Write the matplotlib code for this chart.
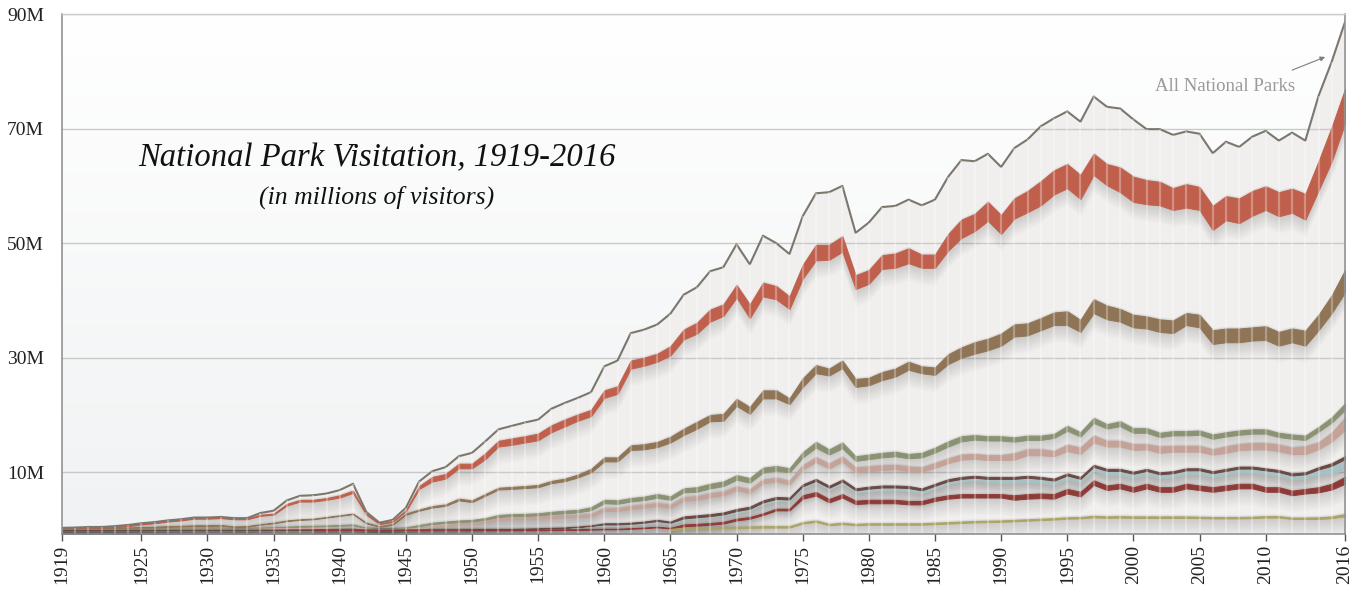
import numpy as np
import matplotlib
matplotlib.use("Agg")
import matplotlib.pyplot as plt
from matplotlib.colors import LinearSegmentedColormap

years = np.arange(1919, 2017)

# all national parks, millions of visitors
total = [
    0.3, 0.35, 0.45, 0.45, 0.6, 0.8, 1.1, 1.3, 1.6, 1.8,          # 1919-1928
    2.1, 2.1, 2.2, 2.0, 2.0, 2.9, 3.3, 5.1, 5.9, 6.0,             # 1929-1938
    6.3, 6.9, 8.0, 3.1, 1.2, 1.7, 3.8, 8.4, 10.2, 10.9,           # 1939-1948
    12.8, 13.4, 15.4, 17.5, 18.1, 18.7, 19.2, 21.1, 22.1, 23.0,   # 1949-1958
    24.0, 28.5, 29.5, 34.3, 34.9, 35.8, 37.7, 41.0, 42.3, 45.1,   # 1959-1968
    45.8, 49.8, 46.3, 51.3, 50.0, 48.1, 54.7, 58.7, 58.9, 60.0,   # 1969-1978
    51.8, 53.6, 56.3, 56.5, 57.6, 56.6, 57.6, 61.6, 64.5, 64.3,   # 1979-1988
    65.6, 63.3, 66.6, 68.1, 70.4, 71.8, 73.0, 71.2, 75.6, 73.8,   # 1989-1998
    73.5, 71.6, 69.9, 69.9, 68.9, 69.5, 69.1, 65.7, 67.7, 66.8,   # 1999-2008
    68.6, 69.6, 67.9, 69.3, 67.9, 75.7, 81.7, 88.6,               # 2009-2016
]

# stacked bands: upper edge and thickness of each band
red_top = [
    0.25, 0.3, 0.4, 0.4, 0.55, 0.75, 1.05, 1.25, 1.55, 1.75,
    2.05, 2.05, 2.15, 1.95, 1.95, 2.6, 2.8, 4.5, 5.2, 5.2,
    5.5, 6.0, 6.8, 2.8, 1.1, 1.5, 3.4, 7.6, 9.2, 9.7,
    11.5, 11.5, 13.3, 15.5, 15.9, 16.3, 16.75, 18.2, 19.2, 20.1,
    20.9, 24.3, 25.0, 29.5, 30.0, 30.7, 32.0, 34.9, 36.1, 38.4,
    39.3, 42.7, 39.3, 43.1, 42.5, 40.7, 46.2, 49.7, 49.7, 51.2,
    44.4, 45.3, 47.9, 48.2, 49.1, 48.0, 48.0, 51.6, 54.1, 55.1,
    57.2, 54.9, 57.8, 59.1, 60.8, 62.7, 63.8, 61.9, 65.6, 63.8,
    63.2, 61.6, 61.0, 60.7, 59.6, 60.3, 59.8, 56.5, 58.2, 57.8,
    59.1, 59.9, 58.9, 59.5, 58.6, 64.3, 70.3, 76.9,
]
red_width = [0.15] * 15 + [
    0.2, 0.2, 0.3, 0.3, 0.3, 0.3, 0.4, 0.4, 0.2, 0.15,
    0.15, 0.2, 0.5, 0.8, 0.8, 0.8, 0.8, 1.0, 1.0, 1.1,
    1.1, 1.15, 1.2, 1.2, 1.1, 1.1, 1.3, 1.3, 1.4, 1.4,
    1.4, 1.6, 1.7, 1.9, 2.1, 2.0, 2.2, 2.4, 2.4, 2.3,
    2.2, 2.4, 2.7, 2.6, 2.7, 2.4, 2.4, 2.4, 2.5, 2.6,
    2.3, 2.3, 2.9, 3.2, 3.0, 3.3, 3.3, 3.5, 3.7, 4.2,
    4.2, 4.2, 4.2, 3.7, 3.7, 4.3, 4.4, 4.2, 4.1, 3.8,
    4.1, 4.0, 4.2, 4.2, 4.3, 4.3, 4.1, 4.2, 4.2, 4.5,
    5.1, 6.0, 6.0,
]

brown_top = [
    0.1, 0.15, 0.2, 0.2, 0.3, 0.35, 0.45, 0.5, 0.6, 0.65,
    0.75, 0.75, 0.8, 0.55, 0.6, 0.95, 1.2, 1.6, 1.8, 1.9,
    2.2, 2.5, 2.8, 1.2, 0.6, 1.0, 2.8, 3.5, 4.1, 4.4,
    5.4, 5.1, 6.2, 7.3, 7.45, 7.6, 7.8, 8.5, 8.9, 9.6,
    10.6, 12.6, 12.6, 14.7, 14.9, 15.3, 16.2, 17.6, 18.8, 20.0,
    20.2, 22.8, 21.4, 24.3, 24.3, 22.9, 26.4, 28.7, 28.1, 29.5,
    26.3, 26.5, 27.5, 28.1, 29.3, 28.5, 28.3, 30.6, 31.8, 32.7,
    33.3, 34.2, 35.8, 36.0, 36.9, 37.9, 38.1, 36.6, 40.2, 39.1,
    38.5, 37.5, 37.2, 36.7, 36.5, 37.8, 37.5, 34.8, 35.1, 35.1,
    35.3, 35.5, 34.5, 35.1, 34.7, 37.5, 40.9, 45.3,
]
brown_width = [0.1] * 25 + [
    0.15, 0.2, 0.2, 0.25, 0.25, 0.3, 0.3, 0.3, 0.3, 0.35,
    0.35, 0.4, 0.4, 0.45, 0.5, 0.6, 0.7, 0.7, 0.8, 0.9,
    0.9, 1.0, 1.1, 1.2, 1.1, 1.2, 1.2, 1.2, 1.4, 1.4,
    1.0, 1.5, 1.4, 1.2, 1.3, 1.4, 1.3, 1.4, 1.4, 1.4,
    1.2, 1.3, 1.7, 1.8, 2.0, 2.0, 2.1, 2.1, 2.1, 2.1,
    2.2, 2.4, 2.1, 2.4, 2.4, 2.2, 2.2, 2.1, 2.2, 2.2,
    2.1, 2.2, 2.4, 2.4, 2.4, 2.3, 2.4, 2.4, 2.4, 2.6,
    2.7, 3.1, 3.9,
]

green_top = [
    0.05, 0.05, 0.1, 0.1, 0.1, 0.15, 0.2, 0.2, 0.25, 0.25,
    0.3, 0.3, 0.3, 0.2, 0.2, 0.3, 0.4, 0.5, 0.6, 0.65,
    0.7, 0.8, 0.9, 0.3, 0.1, 0.15, 0.4, 0.8, 1.2, 1.4,
    1.6, 1.7, 2.0, 2.55, 2.7, 2.75, 2.85, 3.1, 3.3, 3.45,
    3.9, 5.2, 5.1, 5.5, 5.75, 6.2, 5.8, 7.2, 7.4, 8.0,
    8.4, 9.5, 9.0, 10.8, 11.1, 10.7, 13.5, 15.3, 14.0, 15.2,
    12.8, 13.1, 13.4, 13.6, 13.2, 13.4, 14.3, 15.4, 16.3, 16.5,
    16.3, 16.3, 16.1, 16.4, 16.4, 16.7, 18.1, 17.0, 19.5, 18.4,
    18.9, 17.7, 17.7, 16.9, 17.2, 17.2, 17.3, 16.6, 17.0, 17.3,
    17.5, 17.5, 16.9, 16.6, 16.4, 17.9, 19.6, 22.0,
]
green_width = [0.1] * 26 + [
    0.15, 0.2, 0.25, 0.25, 0.3, 0.3, 0.3, 0.35, 0.35, 0.35,
    0.4, 0.4, 0.45, 0.45, 0.5, 0.6, 0.6, 0.6, 0.6, 0.65,
    0.6, 0.7, 0.8, 0.8, 0.8, 0.8, 0.8, 0.85, 0.8, 0.7,
    0.9, 1.0, 0.9, 1.0, 0.8, 0.8, 0.8, 0.8, 0.75, 0.8,
    0.85, 0.9, 0.9, 0.8, 0.75, 0.75, 0.75, 0.75, 0.75, 0.7,
    0.85, 0.75, 0.9, 0.75, 0.85, 0.8, 0.8, 0.75, 0.75, 0.75,
    0.75, 0.75, 0.75, 0.75, 0.75, 0.75, 0.75, 0.75, 0.75,
    0.8, 0.9, 1.1,
]

pink_top = [
    0.02, 0.02, 0.05, 0.05, 0.05, 0.08, 0.1, 0.1, 0.12, 0.12,
    0.15, 0.15, 0.15, 0.1, 0.1, 0.15, 0.2, 0.25, 0.3, 0.35,
    0.4, 0.45, 0.5, 0.15, 0.05, 0.08, 0.15, 0.3, 0.6, 0.75,
    1.1, 1.2, 1.55, 2.0, 2.1, 2.15, 2.3, 2.4, 2.5, 2.55,
    2.7, 3.7, 3.7, 4.1, 4.35, 4.6, 4.3, 5.6, 5.8, 6.3,
    6.6, 7.5, 7.0, 8.7, 9.0, 8.5, 11.2, 12.6, 11.5, 12.7,
    10.8, 11.0, 11.2, 11.3, 11.0, 10.85, 11.6, 12.4, 13.1, 13.2,
    13.0, 13.0, 13.3, 14.0, 14.0, 13.7, 14.8, 14.3, 16.4, 15.5,
    15.5, 14.9, 14.9, 14.5, 14.6, 14.6, 14.6, 14.0, 14.5, 14.9,
    15.1, 15.1, 14.8, 14.3, 14.5, 15.2, 16.9, 19.5,
]
pink_width = [0.05] * 27 + [
    0.1, 0.15, 0.2, 0.25, 0.25, 0.3, 0.3, 0.3, 0.3, 0.35,
    0.35, 0.35, 0.4, 0.4, 0.45, 0.45, 0.5, 0.5, 0.5, 0.5,
    0.55, 0.6, 0.6, 0.6, 0.6, 0.6, 0.6, 0.6, 0.6, 0.7,
    0.8, 0.8, 0.8, 0.75, 0.8, 0.8, 0.75, 0.8, 0.75, 0.8,
    0.8, 0.9, 0.85, 0.85, 0.85, 1.1, 1.0, 1.0, 0.9, 1.1,
    1.1, 1.2, 1.0, 1.0, 1.0, 0.9, 1.1, 1.0, 1.0, 1.0,
    0.9, 1.1, 1.0, 1.1, 1.1, 1.1, 1.1, 1.3,
    1.2, 1.5, 2.1,
]

dkbrown_top = [0.0] * 31 + [
    0.05, 0.05, 0.1, 0.1, 0.15, 0.2, 0.3, 0.35, 0.5, 0.7,
    1.1, 1.1, 1.2, 1.4, 1.7, 1.4, 2.3, 2.5, 2.7, 3.0,
    3.6, 4.0, 5.1, 5.7, 5.6, 7.9, 8.85, 7.65, 8.75, 7.2,
    7.5, 7.7, 7.7, 7.6, 7.2, 8.0, 8.8, 9.2, 9.4, 9.2,
    9.2, 9.2, 9.4, 9.2, 8.9, 9.8, 9.2, 11.3, 10.6, 10.6,
    10.1, 10.6, 10.0, 10.2, 10.7, 10.7, 10.2, 10.6, 11.0, 11.0,
    10.7, 10.4, 9.8, 10.0, 10.9, 11.6, 12.8,
]
dkbrown_width = [0.05] * 41 + [0.2] * 6 + [0.35] * 48 + [0.4, 0.45, 0.5]
# grey-blue band sits directly under the dark brown line
blue_width = [0.05] * 41 + [0.2] * 10 + [0.35] * 10 + [0.5] * 10 + [0.7] * 24 + [0.9, 1.3, 1.9]

dkred_top = [0.0] * 37 + [
    0.05, 0.05, 0.05, 0.1,
    0.15, 0.15, 0.25, 0.35, 0.5, 0.3, 0.9, 1.0, 1.15, 1.35,
    1.9, 2.2, 2.85, 3.65, 3.65, 6.0, 6.55, 5.35, 6.2, 5.05,
    5.2, 5.2, 5.2, 5.0, 5.0, 5.6, 6.0, 6.2, 6.2, 6.2,
    6.2, 6.0, 6.2, 6.3, 6.2, 7.1, 6.6, 8.6, 7.7, 8.0,
    7.4, 8.0, 7.4, 7.4, 8.0, 7.7, 7.4, 7.7, 8.0, 8.0,
    7.4, 7.4, 6.8, 7.1, 7.4, 8.0, 9.2,
]
dkred_width = [0.0] * 19 + [0.1] * 28 + [0.3] * 9 + [0.6] * 16 + [0.8] * 23 + [0.9, 1.0, 1.2]

olive_top = [0.0] * 46 + [
    0.15, 0.3, 0.4, 0.45, 0.5, 0.5, 0.55, 0.6, 0.6, 0.6,
    1.3, 1.6, 1.0, 1.2, 1.0, 1.1, 1.1, 1.1, 1.1, 1.1,
    1.2, 1.3, 1.4, 1.5, 1.55, 1.6, 1.7, 1.8, 1.9, 2.0,
    2.15, 2.2, 2.4, 2.3, 2.35, 2.3, 2.3, 2.3, 2.3, 2.3,
    2.25, 2.2, 2.2, 2.2, 2.25, 2.35, 2.35, 2.1, 2.1, 2.15,
    2.3, 2.7,
]
olive_width = [0.0] * 46 + [0.25] * 49 + [0.3, 0.3, 0.4]

blue_top = list(np.array(dkbrown_top) - np.array(dkbrown_width))

bands = [
    (red_top, red_width, "#c0604c"),
    (brown_top, brown_width, "#8f7456"),
    (green_top, green_width, "#8a9273"),
    (pink_top, pink_width, "#c5a298"),
    (blue_top, blue_width, "#a8c0c1"),
    (dkbrown_top, dkbrown_width, "#6b4843"),
    (dkred_top, dkred_width, "#8e3b37"),
    (olive_top, olive_width, "#aaa464"),
]

x_ticks = [1919, 1925, 1930, 1935, 1940, 1945, 1950, 1955, 1960, 1965, 1970,
           1975, 1980, 1985, 1990, 1995, 2000, 2005, 2010, 2016]
y_ticks = [10, 30, 50, 70, 90]
y_labels = ["10M", "30M", "50M", "70M", "90M"]

ymin, ymax = -0.68, 90

fig = plt.figure(figsize=(13.6, 5.9), dpi=100)
ax = fig.add_axes([62 / 1360, (590 - 533.5) / 590, (1345 - 62) / 1360, (533.5 - 14) / 590])

# soft background gradient
bg = LinearSegmentedColormap.from_list("bg", ["#f0f2f3", "#ffffff"])
ax.imshow(np.linspace(0, 1, 256).reshape(-1, 1), extent=[1919, 2016, ymin, ymax],
          aspect="auto", cmap=bg, origin="lower", zorder=0)

ax.fill_between(years, ymin, total, color="#f0efee", lw=0, zorder=1)

for y in y_ticks:
    ax.axhline(y, color="#c9c9c9", lw=1, zorder=1.5)

# fake blurred drop shadow under each band
for top, width, color in bands:
    top = np.array(top)
    width = np.array(width)
    bot = top - width
    mask = width > 0
    for k in range(1, 10):
        ax.fill_between(years, bot - 0.33 * k, top + 0.05 * k, where=mask, color="black",
                        alpha=0.015, lw=0, zorder=2)

for top, width, color in bands:
    top = np.array(top)
    width = np.array(width)
    mask = width > 0
    ax.fill_between(years, top - width, top, where=mask, facecolor=color,
                    edgecolor=color, lw=0.7, zorder=3)

ax.plot(years, total, color="#7b776c", lw=1.5, zorder=4)

# light vertical stripe for every year
ax.vlines(years, ymin, total, colors="white", alpha=0.3, lw=1.6, zorder=5)

ax.set_xlim(1919, 2016)
ax.set_ylim(ymin, ymax)

ax.set_xticks(x_ticks)
ax.set_xticklabels([str(t) for t in x_ticks], rotation=90, fontsize=14,
                   family="Liberation Serif", color="#222222")
ax.set_yticks(y_ticks)
ax.set_yticklabels(y_labels, fontsize=14, family="Liberation Serif", color="#222222")
ax.tick_params(axis="x", length=5, width=1, color="#555555", pad=3)
ax.tick_params(axis="y", length=0, pad=13)

for side in ["left", "bottom", "right"]:
    ax.spines[side].set_color("#8a8a8a")
    ax.spines[side].set_linewidth(1.1)
ax.spines["top"].set_color("#cccccc")
ax.spines["top"].set_linewidth(1)
for s in ax.spines.values():
    s.set_zorder(6)

fig.text(377 / 1360, 1 - 158 / 590, "National Park Visitation, 1919-2016",
         ha="center", va="center", fontsize=23.5, style="italic",
         family="Liberation Serif", color="#111111")
fig.text(377 / 1360, 1 - 197 / 590, "(in millions of visitors)",
         ha="center", va="center", fontsize=18.5, style="italic",
         family="Liberation Serif", color="#111111")

ax.text(2006.9, 77.3, "All National Parks", ha="center", va="center",
        fontsize=13.5, family="Liberation Serif", color="#9a9a9a", zorder=7)
ax.annotate("", xy=(2014.5, 82.5), xytext=(2012.0, 80.2),
            arrowprops=dict(arrowstyle="-|>", color="#7d7d7d", lw=0.8,
                            mutation_scale=7, shrinkA=0, shrinkB=0), zorder=7)

plt.savefig("out.png", dpi=100)
